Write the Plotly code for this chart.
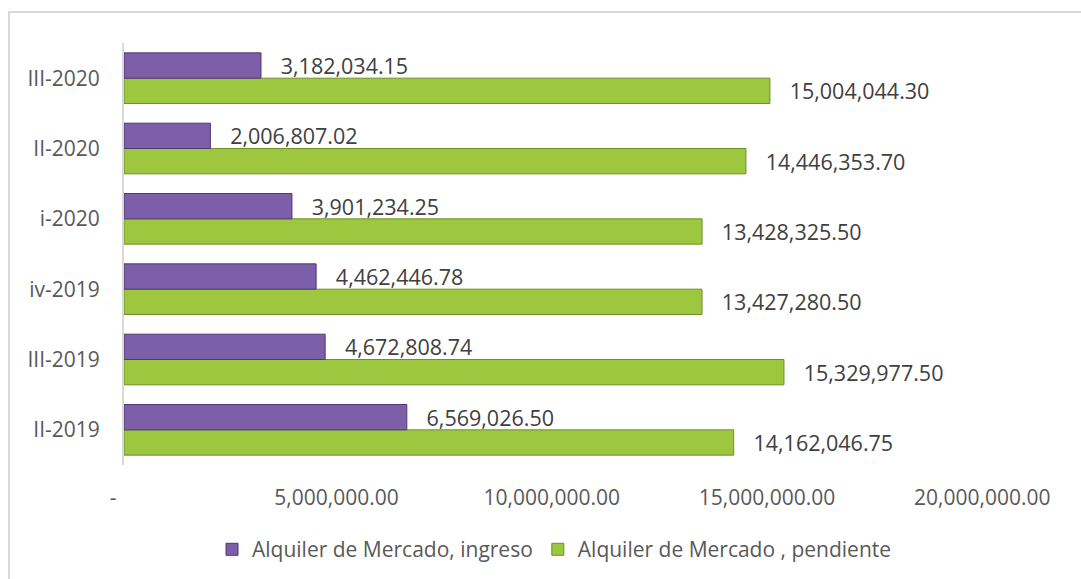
import plotly.graph_objects as go

# quarters, bottom to top
periodos = ["II-2019", "III-2019", "iv-2019", "i-2020", "II-2020", "III-2020"]

ingreso = [6569026.50, 4672808.74, 4462446.78, 3901234.25, 2006807.02, 3182034.15]
pendiente = [14162046.75, 15329977.50, 13427280.50, 13428325.50, 14446353.70, 15004044.30]

serie_ingreso = "Alquiler de Mercado, ingreso"
serie_pendiente = "Alquiler de Mercado , pendiente"

tick_vals = [0, 5000000, 10000000, 15000000, 20000000]
tick_text = ["-\u00a0\u00a0\u00a0\u00a0", "5,000,000.00\u00a0", "10,000,000.00\u00a0",
             "15,000,000.00\u00a0", "20,000,000.00\u00a0"]

FONT = "Open Sans"
W, H = 1081, 579
L, R, T, B = 124, 96, 43, 114

fig = go.Figure()

# green first so that the purple bar sits on top in each group
fig.add_trace(go.Bar(
    y=periodos, x=pendiente, name=serie_pendiente, orientation="h",
    marker=dict(color="#9DC73F", line=dict(color="#6F8F2A", width=1)),
    texttemplate="\u00a0\u00a0\u00a0%{x:,.2f}", textposition="outside",
    textfont=dict(family=FONT, size=21.5, color="#404040"),
    constraintext="none", cliponaxis=False, legendrank=2,
))
fig.add_trace(go.Bar(
    y=periodos, x=ingreso, name=serie_ingreso, orientation="h",
    marker=dict(color="#7D5EA8", line=dict(color="#4F3873", width=1)),
    texttemplate="\u00a0\u00a0\u00a0%{x:,.2f}", textposition="outside",
    textfont=dict(family=FONT, size=21.5, color="#404040"),
    constraintext="none", cliponaxis=False, legendrank=1,
))

pw = W - L - R
ph = H - T - B
fig.add_shape(type="rect", xref="paper", yref="paper",
              x0=(9 - L) / pw, x1=(W + 20 - L) / pw,
              y0=-(H + 20 - T - ph) / ph, y1=(ph + T - 12) / ph,
              line=dict(color="#D9D9D9", width=2), layer="below")

fig.update_layout(
    width=W, height=H,
    margin=dict(l=L, r=R, t=T, b=B, autoexpand=False),
    paper_bgcolor="white", plot_bgcolor="white",
    barmode="group", bargap=0.28, bargroupgap=0,
    font=dict(family=FONT, size=21, color="#595959"),
    showlegend=True,
    legend=dict(orientation="h", x=0.5, xanchor="center", y=-0.152, yanchor="top",
                font=dict(family=FONT, size=21, color="#595959"),
                itemwidth=30, tracegroupgap=0),
)

fig.update_xaxes(range=[0, 20000000], tickvals=tick_vals, ticktext=tick_text,
                 showgrid=False, zeroline=False, showline=False,
                 ticks="outside", ticklen=14, tickcolor="rgba(0,0,0,0)",
                 tickfont=dict(family=FONT, size=21, color="#595959"))
fig.update_yaxes(categoryorder="array", categoryarray=periodos,
                 showgrid=False, zeroline=False, showline=True, linecolor="#D9D9D9", linewidth=2,
                 ticks="outside", ticklen=18, tickcolor="rgba(0,0,0,0)",
                 tickfont=dict(family=FONT, size=21, color="#595959"))

fig.write_html("out.html", config={"displayModeBar": False},
               post_script="document.body.style.margin='0';")
